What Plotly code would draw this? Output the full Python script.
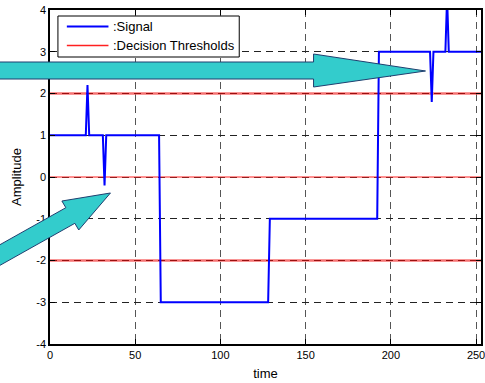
import plotly.graph_objects as go

# ---- data ----
signal_t = [0, 21, 22, 23, 31, 32, 33, 64, 65, 128, 129, 192, 193, 223, 224, 225, 232, 233, 234, 256]
signal_v = [1, 1, 2.2, 1, 1, -0.2, 1, 1, -3, -3, -1, -1, 3, 3, 1.8, 3, 3, 4.3, 3, 3]
thresholds = [-2, 0, 2]
t_span = [0, 256]
x_ticks = [0, 50, 100, 150, 200, 250]
y_ticks = [-4, -3, -2, -1, 0, 1, 2, 3, 4]
legend_labels = [":Signal", ":Decision Thresholds"]
legend_colors = ["#0000ff", "#ff2020"]
legend_widths = [2, 1.5]

W, H = 485, 383
ML, MR, MT, MB = 50, 0, 10, 39
PW, PH = W - ML - MR, H - MT - MB

def px(x, y):
    return (x - ML) / PW, (H - MB - y) / PH

def poly(points):
    pts = [px(x, y) for x, y in points]
    return "M " + " L ".join(f"{a:.5f},{b:.5f}" for a, b in pts) + " Z"

fig = go.Figure()

# thresholds
for th in thresholds:
    if th == 0:
        fig.add_trace(go.Scatter(x=t_span, y=[th, th], mode="lines",
                                 line=dict(color="#ff2020", width=1),
                                 name=":Decision Thresholds"))
    else:
        fig.add_trace(go.Scatter(x=t_span, y=[th, th], mode="lines",
                                 line=dict(color="rgba(245,90,90,0.85)", width=2.5),
                                 name=":Decision Thresholds", hoverinfo="skip"))
        fig.add_trace(go.Scatter(x=t_span, y=[th, th], mode="lines",
                                 line=dict(color="#9a1010", width=1, dash="7px,5px"),
                                 hoverinfo="skip"))

fig.add_trace(go.Scatter(x=signal_t, y=signal_v, mode="lines",
                         line=dict(color="#0000ff", width=2), name=":Signal"))

font = "Arial, Liberation Sans, sans-serif"
shapes = []
annotations = []

# legend box (drawn to match the original's compact legend)
bx0, by0 = px(58, 16)
bx1, by1 = px(241, 57)
shapes.append(dict(type="rect", xref="paper", yref="paper", x0=bx0, y0=by0, x1=bx1, y1=by1,
                   fillcolor="white", line=dict(color="black", width=1), layer="above"))
for i, (lab, col, lw) in enumerate(zip(legend_labels, legend_colors, legend_widths)):
    yy = 26.5 + 19 * i
    lx0, ly = px(67, yy)
    lx1, _ = px(109, yy)
    shapes.append(dict(type="line", xref="paper", yref="paper", x0=lx0, y0=ly, x1=lx1, y1=ly,
                       line=dict(color=col, width=lw), layer="above"))
    tx, ty = px(112, yy)
    annotations.append(dict(text=lab, xref="paper", yref="paper", x=tx, y=ty,
                            xanchor="left", yanchor="middle", showarrow=False,
                            font=dict(family=font, size=13, color="black")))

# arrows
arrow_fill = "#33cccc"
arrow_line = dict(color="#1f3f6f", width=1)
arrow1 = [(-5, 62), (316, 62), (316, 54), (429, 71), (316, 87), (316, 79), (-5, 79)]
arrow2 = [(-21.4, 256.3), (66, 207.7), (62, 201), (111, 193), (79, 230), (75.1, 223.3), (-12.3, 271.9)]
for a in (arrow1, arrow2):
    shapes.append(dict(type="path", xref="paper", yref="paper", path=poly(a),
                       fillcolor=arrow_fill, line=arrow_line, layer="above"))

fig.update_layout(
    width=W, height=H,
    margin=dict(l=ML, r=MR, t=MT, b=MB, pad=0),
    paper_bgcolor="white", plot_bgcolor="white",
    font=dict(family=font, size=11, color="black"),
    showlegend=False,
    shapes=shapes,
    annotations=annotations,
    xaxis=dict(range=[0, 252.9], tickvals=x_ticks, ticktext=[str(v) for v in x_ticks],
               ticklabeloverflow="allow",
               showgrid=True, gridcolor="#555", griddash="7px,5px", gridwidth=1,
               zeroline=False, showline=True, linecolor="black", linewidth=1.5,
               mirror="ticks", ticks="inside", ticklen=5, tickcolor="black",
               title=dict(text="time", font=dict(size=13), standoff=9)),
    yaxis=dict(range=[-4, 4], tickvals=y_ticks, ticktext=[str(v) for v in y_ticks],
               ticklabeloverflow="allow",
               showgrid=True, gridcolor="#222", griddash="7px,5px", gridwidth=1,
               zeroline=False, showline=True, linecolor="black", linewidth=1.5,
               mirror="ticks", ticks="inside", ticklen=5, tickcolor="black",
               title=dict(text="Amplitude", font=dict(size=13), standoff=12)),
)

fig.write_html("out.html")
